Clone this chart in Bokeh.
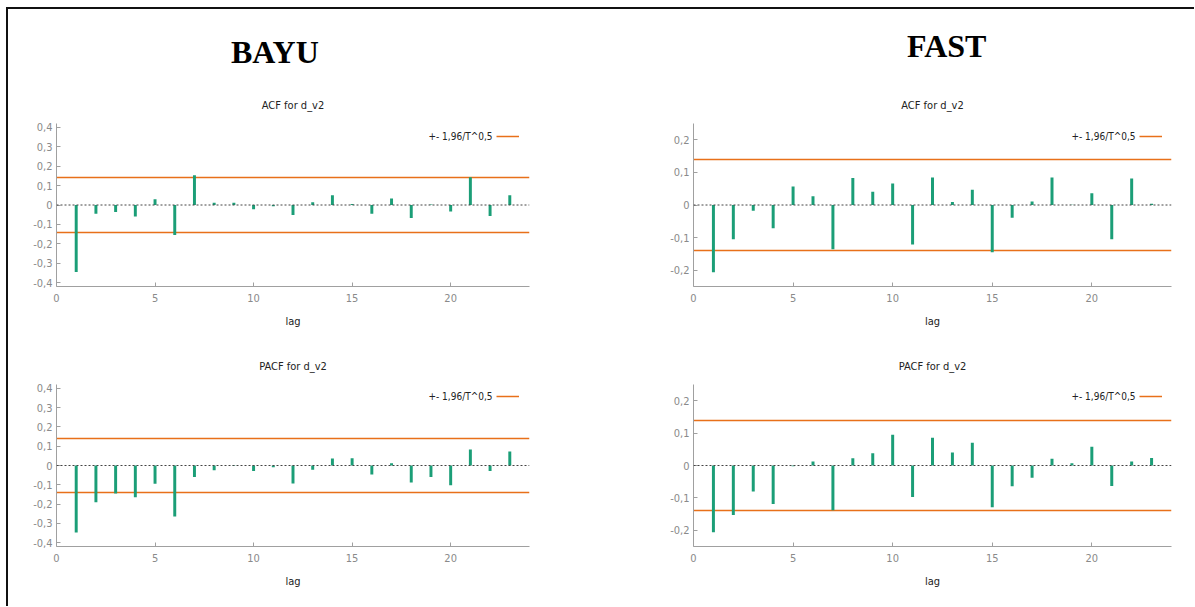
from bokeh.plotting import figure
from bokeh.layouts import row, column
from bokeh.models import Div, Span, Label, Legend, LegendItem, FixedTicker
from bokeh.embed import file_html
from bokeh.resources import INLINE

# Correlogram values for lags 1..23 of the differenced series d_v2
lags = list(range(1, 24))
bayu_acf = [-0.345, -0.045, -0.036, -0.059, 0.029, -0.155, 0.153, 0.012, 0.012, -0.022,
            -0.007, -0.052, 0.014, 0.050, 0.005, -0.045, 0.034, -0.067, 0.002, -0.034,
            0.143, -0.057, 0.050]
bayu_pacf = [-0.347, -0.191, -0.145, -0.164, -0.095, -0.264, -0.060, -0.024, -0.002, -0.028,
             -0.009, -0.093, -0.022, 0.036, 0.038, -0.047, 0.012, -0.088, -0.060, -0.102,
             0.083, -0.029, 0.072]
fast_acf = [-0.206, -0.105, -0.018, -0.071, 0.057, 0.027, -0.136, 0.083, 0.041, 0.066,
            -0.121, 0.084, 0.009, 0.047, -0.145, -0.039, 0.011, 0.084, 0.001, 0.036,
            -0.105, 0.081, 0.004]
fast_pacf = [-0.206, -0.153, -0.080, -0.119, -0.002, 0.012, -0.138, 0.022, 0.038, 0.095,
             -0.097, 0.086, 0.040, 0.070, -0.129, -0.064, -0.038, 0.021, 0.007, 0.058,
             -0.063, 0.012, 0.023]

conf_band = 0.1393          # 1.96 / sqrt(T)
band_label = "+- 1,96/T^0,5"

x_ticks = [0, 5, 10, 15, 20]
bayu_y_ticks = [-0.4, -0.3, -0.2, -0.1, 0, 0.1, 0.2, 0.3, 0.4]
bayu_y_labels = ["-0,4", "-0,3", "-0,2", "-0,1", "0", "0,1", "0,2", "0,3", "0,4"]
fast_y_ticks = [-0.2, -0.1, 0, 0.1, 0.2]
fast_y_labels = ["-0,2", "-0,1", "0", "0,1", "0,2"]

GREEN = "#1b9e77"
ORANGE = "#e8701a"
AXIS = "#a0a0a0"
FONT = "DejaVu Sans Condensed, Liberation Sans"


def panel(title, values, y_lim, y_ticks, y_labels, width, height,
          b_left, b_right, b_top, b_bottom, legend_x):
    p = figure(width=width, height=height, x_range=(0, 24), y_range=(-y_lim, y_lim),
               output_backend="svg", toolbar_location=None,
               min_border_left=b_left, min_border_right=b_right,
               min_border_top=b_top, min_border_bottom=b_bottom, margin=0)
    p.title.text = title
    p.title.align = "center"
    p.title.text_font = FONT
    p.title.text_font_size = "11px"
    p.title.text_font_style = "normal"
    p.title.text_color = "#222222"
    p.title.standoff = 23
    p.outline_line_color = None
    p.grid.visible = False
    p.background_fill_color = "white"
    p.border_fill_color = "white"

    for ax in (p.xaxis[0], p.yaxis[0]):
        ax.axis_line_color = AXIS
        ax.major_tick_line_color = AXIS
        ax.major_tick_in = 4
        ax.major_tick_out = 0
        ax.minor_tick_line_color = None
        ax.major_label_text_font = FONT
        ax.major_label_text_font_size = "11px"
        ax.major_label_text_color = "#8a8a8a"
    p.xaxis.ticker = FixedTicker(ticks=x_ticks)
    p.xaxis.axis_label = "lag"
    p.xaxis.axis_label_text_font = FONT
    p.xaxis.axis_label_text_font_size = "11px"
    p.xaxis.axis_label_text_font_style = "normal"
    p.xaxis.axis_label_text_color = "#222222"
    p.xaxis.major_label_standoff = 7
    p.xaxis.axis_label_standoff = 10
    p.yaxis.ticker = FixedTicker(ticks=y_ticks)
    p.yaxis.major_label_overrides = dict(zip(y_ticks, y_labels))
    p.yaxis.major_label_standoff = 4

    band = p.hspan(y=[conf_band, -conf_band], line_color=ORANGE, line_width=1.5)
    p.add_layout(Span(location=0, dimension="width", line_color="#444444",
                      line_dash="2 2", line_width=1))
    p.vbar(x=lags, top=values, bottom=0, width=0.15, fill_color=GREEN, line_color=None)

    legend = Legend(items=[LegendItem(label=" ", renderers=[band])],
                    location=(legend_x, 144), padding=0, margin=0, spacing=0,
                    glyph_width=23, glyph_height=12, label_standoff=0, label_width=0,
                    label_text_font_size="1px", border_line_alpha=0,
                    background_fill_alpha=0)
    p.add_layout(legend)
    p.add_layout(Label(x=legend_x - 4, y=150, x_units="screen", y_units="screen",
                       text=band_label, text_align="right", text_baseline="middle",
                       text_font=FONT, text_font_size="10px", text_color="#222222"))
    return p


tl = panel("ACF for d_v2", bayu_acf, 0.42, bayu_y_ticks, bayu_y_labels,
           588, 260, 48, 67, 44, 53, 440)
tr = panel("ACF for d_v2", fast_acf, 0.25, fast_y_ticks, fast_y_labels,
           598, 260, 97, 23, 44, 53, 446)
bl = panel("PACF for d_v2", bayu_pacf, 0.42, bayu_y_ticks, bayu_y_labels,
           588, 267, 48, 67, 45, 60, 440)
br = panel("PACF for d_v2", fast_pacf, 0.25, fast_y_ticks, fast_y_labels,
           598, 267, 97, 23, 45, 60, 446)

head_style = ("font-family:'Liberation Serif';font-weight:bold;font-size:32px;"
              "line-height:32px;color:#000;white-space:nowrap;")
div_bayu = Div(text=f'<div style="margin-left:223px;margin-top:27px;{head_style}">BAYU</div>',
               width=588, height=70, margin=0)
div_fast = Div(text=f'<div style="margin-left:311px;margin-top:21px;{head_style}">FAST</div>',
               width=598, height=70, margin=0)

page = column(row(div_bayu, div_fast), row(tl, tr), row(bl, br),
              margin=(7, 0, 0, 6),
              styles={"border-left": "2px solid #111", "border-top": "2px solid #111",
                      "background": "white"})

open("out.html", "w").write(file_html(page, INLINE))
